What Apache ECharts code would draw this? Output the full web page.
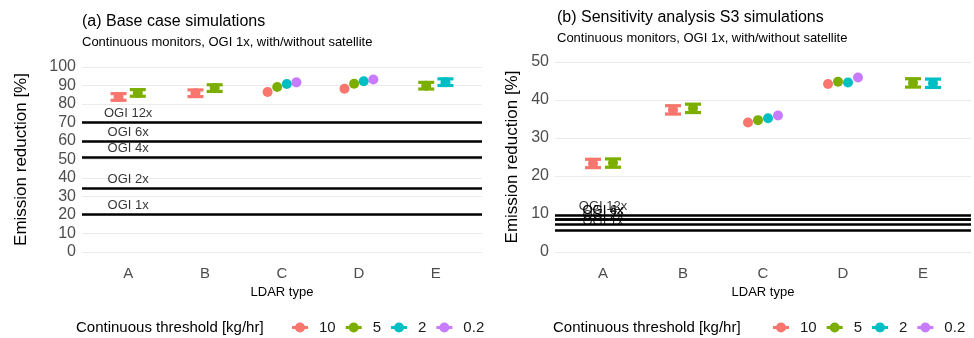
<!DOCTYPE html>
<html>
<head>
<meta charset="utf-8">
<title>LDAR emission reduction</title>
<script src="https://cdn.jsdelivr.net/npm/echarts@6/dist/echarts.min.js"></script>
<style>
  html, body { margin: 0; padding: 0; background: #fff; }
  #main { width: 974px; height: 338px; }
</style>
</head>
<body>
<div id="main"></div>
<script>
var categories = ['A', 'B', 'C', 'D', 'E'];
var thresholds = ['10', '5', '2', '0.2'];
var colors = ['#F8766D', '#7CAE00', '#00BFC4', '#C77CFF'];

// (a) base case, emission reduction [%] per LDAR type
var base10 = [83.8, 85.8, 86.5, 88.2, null];
var base5 = [86.0, 88.6, 89.2, 90.9, 89.9];
var base2 = [null, null, 90.8, 92.3, 91.8];
var base02 = [null, null, 91.7, 93.2, null];
// half width of the error bars
var base10Err = [1.8, 1.8, 0, 0, 0];
var base5Err = [1.8, 1.8, 0, 0, 1.8];
var base2Err = [0, 0, 0, 0, 1.8];
var base02Err = [0, 0, 0, 0, 0];

// (b) sensitivity S3
var s3_10 = [23.3, 37.4, 34.1, 44.2, null];
var s3_5 = [23.4, 37.8, 34.7, 44.8, 44.5];
var s3_2 = [null, null, 35.2, 44.6, 44.4];
var s3_02 = [null, null, 35.9, 45.9, null];
var s3_10Err = [1.1, 1.1, 0, 0, 0];
var s3_5Err = [1.1, 1.1, 0, 0, 1.1];
var s3_2Err = [0, 0, 0, 0, 1.1];
var s3_02Err = [0, 0, 0, 0, 0];

// OGI reference levels
var ogiLabels = ['OGI 1x', 'OGI 2x', 'OGI 4x', 'OGI 6x', 'OGI 12x'];
var baseOgi = [20.3, 34.6, 51.2, 60.0, 70.2];
var s3Ogi = [5.8, 7.3, 8.5, 8.6, 9.7];

var FONT = '"Liberation Sans", Arial, sans-serif';

// dodge like ggplot position_dodge(width = 0.5)
function dodge(groups, errs, gi) {
  var out = [];
  for (var i = 0; i < categories.length; i++) {
    if (groups[gi][i] == null) continue;
    var present = [];
    groups.forEach(function (g, k) { if (g[i] != null) present.push(k); });
    var n = present.length, pos = present.indexOf(gi);
    var x = i + 1 + (pos - (n - 1) / 2) * 0.5 / n;
    out.push([x, groups[gi][i], errs[gi][i]]);
  }
  return out;
}

function renderPoint(params, api) {
  var x = api.value(0), y = api.value(1), err = api.value(2);
  var c = api.coord([x, y]);
  var color = api.visual('color');
  var children = [];
  if (err > 0) {
    var top = api.coord([x, y + err])[1];
    var bot = api.coord([x, y - err])[1];
    var hw = 8;
    var st = { stroke: color, lineWidth: 3.2 };
    children.push({ type: 'line', shape: { x1: c[0], y1: top, x2: c[0], y2: bot }, style: st });
    children.push({ type: 'line', shape: { x1: c[0] - hw, y1: top, x2: c[0] + hw, y2: top }, style: st });
    children.push({ type: 'line', shape: { x1: c[0] - hw, y1: bot, x2: c[0] + hw, y2: bot }, style: st });
  }
  children.push({ type: 'circle', shape: { cx: c[0], cy: c[1], r: 5 }, style: { fill: color } });
  return { type: 'group', children: children };
}

function pointSeries(groups, errs, idx) {
  return thresholds.map(function (t, gi) {
    return {
      name: t,
      type: 'custom',
      xAxisIndex: idx,
      yAxisIndex: idx,
      itemStyle: { color: colors[gi] },
      encode: { x: 0, y: 1 },
      renderItem: renderPoint,
      data: dodge(groups, errs, gi),
      z: 5
    };
  });
}

function ogiSeries(levels, idx) {
  return {
    name: 'ogi' + idx,
    type: 'scatter',
    xAxisIndex: idx,
    yAxisIndex: idx,
    symbolSize: 0,
    silent: true,
    data: levels.map(function (v, k) { return { name: ogiLabels[k], value: [1, v] }; }),
    label: {
      show: true, position: 'inside', offset: [0, -9], formatter: '{b}',
      color: '#000', fontSize: 13, fontFamily: FONT
    },
    markLine: {
      symbol: 'none', silent: true, label: { show: false },
      lineStyle: { color: '#000', width: 2.5, type: 'solid' },
      data: levels.map(function (v) { return { yAxis: v }; })
    },
    z: 3
  };
}

function xAxisOf(idx) {
  return {
    type: 'value', gridIndex: idx, min: 0.4, max: 5.6,
    axisLine: { show: false }, axisTick: { show: false }, splitLine: { show: false },
    axisLabel: {
      customValues: [1, 2, 3, 4, 5],
      formatter: function (v) { return categories[Math.round(v) - 1]; },
      color: '#4d4d4d', fontSize: 15, fontFamily: FONT, margin: 14
    },
    name: 'LDAR type', nameLocation: 'middle', nameGap: 34,
    nameTextStyle: { color: '#000', fontSize: 13, fontFamily: FONT }
  };
}

function yAxisOf(idx, max, gap) {
  return {
    type: 'value', gridIndex: idx, min: 0, max: max, interval: 10,
    axisLine: { show: false }, axisTick: { show: false },
    splitLine: { lineStyle: { color: '#ebebeb', width: 1 } },
    axisLabel: { color: '#4d4d4d', fontSize: 16, fontFamily: FONT, margin: 6 },
    name: 'Emission reduction [%]', nameLocation: 'middle', nameGap: gap,
    nameTextStyle: { color: '#000', fontSize: 17, fontFamily: FONT }
  };
}

var legendIcon = 'path://M0,4H16V7H0Z M3,5.5A5,5 0 1 1 13,5.5A5,5 0 1 1 3,5.5Z';

function legendOf(left) {
  return {
    left: left, top: 320, padding: 0, data: thresholds, icon: legendIcon,
    itemWidth: 16, itemHeight: 11, itemGap: 10, selectedMode: false,
    textStyle: { color: '#1a1a1a', fontSize: 15, fontFamily: FONT, padding: [0, 0, 0, 6] }
  };
}

function titleOf(text, left, top, size) {
  return { text: text, left: left, top: top, padding: 0,
    textStyle: { color: '#000', fontSize: size, fontWeight: 'normal', fontFamily: FONT } };
}

var chart = echarts.init(document.getElementById('main'), null, { renderer: 'canvas' });

var option = {
  animation: false,
  backgroundColor: '#fff',
  title: [
    titleOf('(a) Base case simulations', 82, 14, 16),
    titleOf('Continuous monitors, OGI 1x, with/without satellite', 82, 36, 13),
    titleOf('(b) Sensitivity analysis S3 simulations', 557, 10, 16),
    titleOf('Continuous monitors, OGI 1x, with/without satellite', 557, 32, 13),
    titleOf('Continuous threshold [kg/hr]', 76, 320, 15),
    titleOf('Continuous threshold [kg/hr]', 553, 320, 15)
  ],
  legend: [legendOf(292), legendOf(773)],
  grid: [
    { left: 82, right: 492, top: 67, bottom: 86 },
    { left: 555, right: 3, top: 62, bottom: 86 }
  ],
  xAxis: [xAxisOf(0), xAxisOf(1)],
  yAxis: [yAxisOf(0, 100, 52), yAxisOf(1, 50, 34)],
  series: [ogiSeries(baseOgi, 0), ogiSeries(s3Ogi, 1)]
    .concat(pointSeries([base10, base5, base2, base02], [base10Err, base5Err, base2Err, base02Err], 0))
    .concat(pointSeries([s3_10, s3_5, s3_2, s3_02], [s3_10Err, s3_5Err, s3_2Err, s3_02Err], 1))
};

chart.setOption(option);
</script>
</body>
</html>
